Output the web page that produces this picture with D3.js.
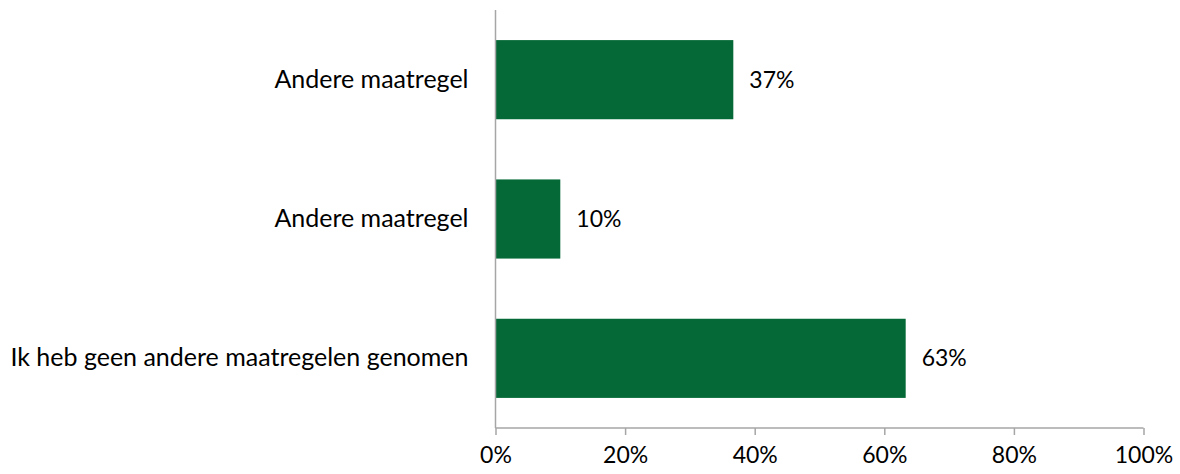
<!DOCTYPE html>
<html>
<head>
<meta charset="utf-8">
<script src="https://cdn.jsdelivr.net/npm/d3@7"></script>
<style>
  html, body { margin: 0; padding: 0; background: #fff; }
  svg { display: block; }
  text { font-family: Lato, "Open Sans", sans-serif; fill: #000; }
</style>
</head>
<body>
<svg id="chart" width="1180" height="474"></svg>
<script>
const categories = ["Andere maatregel", "Andere maatregel ", "Ik heb geen andere maatregelen genomen"];
const categoryLabels = ["Andere maatregel", "Andere maatregel", "Ik heb geen andere maatregelen genomen"];
const values = [0.367, 0.10, 0.633];
const tickValues = [0, 0.2, 0.4, 0.6, 0.8, 1.0];

(function () {
const svg = d3.select("#chart");
const mLeft = 495.5, mRight = 1143.5, mTop = 10, mBottom = 428;

const x = d3.scaleLinear().domain([0, 1]).range([mLeft, mRight]);
const y = d3.scaleBand().domain(categories).range([mTop, mBottom])
  .paddingInner(0.432).paddingOuter(0.216);

const green = "#046936";
const axisColor = "#a6a6a6";
const numSize = 23;
const catSize = 25;

// bars
svg.append("g").selectAll("rect").data(values).join("rect")
  .attr("x", x(0))
  .attr("y", (d, i) => y(categories[i]))
  .attr("width", d => x(d) - x(0))
  .attr("height", y.bandwidth())
  .attr("fill", green);

// value labels
svg.append("g").selectAll("text").data(values).join("text")
  .attr("x", d => x(d) + 16)
  .attr("y", (d, i) => y(categories[i]) + y.bandwidth() / 2)
  .attr("dy", "0.35em")
  .style("font-size", numSize + "px")
  .text(d => d3.format(".0%")(d));

// x axis
const xAxis = d3.axisBottom(x).tickValues(tickValues).tickFormat(d3.format(".0%")).tickSize(7).tickPadding(12);
const gx = svg.append("g").attr("transform", `translate(0,${mBottom})`).call(xAxis);
gx.select(".domain").attr("stroke", axisColor).attr("stroke-width", 1.5).attr("d", `M${mLeft},0H${mRight}`);
gx.selectAll(".tick line").attr("stroke", axisColor).attr("stroke-width", 1.5);
gx.selectAll(".tick text").style("font-size", numSize + "px").attr("fill", "#000")
  .style("font-family", "Lato, 'Open Sans', sans-serif");

// y axis
const yAxis = d3.axisLeft(y).tickSize(0).tickPadding(27).tickFormat((d, i) => categoryLabels[i]);
const gy = svg.append("g").attr("transform", `translate(${mLeft},0)`).call(yAxis);
gy.select(".domain").attr("stroke", axisColor).attr("stroke-width", 1.5).attr("d", `M0,${mTop}V${mBottom}`);
gy.selectAll(".tick text").style("font-size", catSize + "px").attr("fill", "#000")
  .style("font-family", "Lato, 'Open Sans', sans-serif");
})();
</script>
</body>
</html>
